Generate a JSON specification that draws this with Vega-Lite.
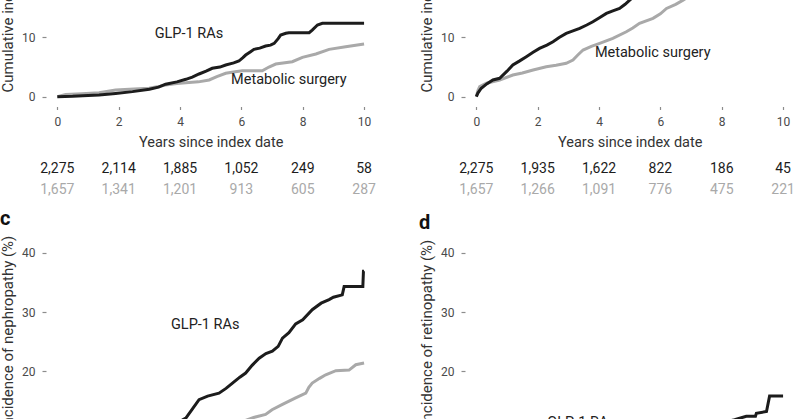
{
  "$schema": "https://vega.github.io/schema/vega-lite/v6.json",
  "padding": {"top": -152, "left": 0, "right": 0, "bottom": 0},
  "autosize": {"type": "pad"},
  "bounds": "flush",
  "columns": 2,
  "spacing": {"row": 41.5, "column": 81},
  "datasets": {
    "curves": [
      {"panel": "a", "group": "Metabolic surgery", "t": 0, "ci": 0},
      {"panel": "a", "group": "Metabolic surgery", "t": 0.27, "ci": 0.35},
      {"panel": "a", "group": "Metabolic surgery", "t": 0.8, "ci": 0.5},
      {"panel": "a", "group": "Metabolic surgery", "t": 1.36, "ci": 0.67},
      {"panel": "a", "group": "Metabolic surgery", "t": 1.9, "ci": 1.13},
      {"panel": "a", "group": "Metabolic surgery", "t": 2.5, "ci": 1.3},
      {"panel": "a", "group": "Metabolic surgery", "t": 2.99, "ci": 1.42},
      {"panel": "a", "group": "Metabolic surgery", "t": 3.3, "ci": 1.7},
      {"panel": "a", "group": "Metabolic surgery", "t": 3.53, "ci": 1.97},
      {"panel": "a", "group": "Metabolic surgery", "t": 3.9, "ci": 2.2},
      {"panel": "a", "group": "Metabolic surgery", "t": 4.19, "ci": 2.36},
      {"panel": "a", "group": "Metabolic surgery", "t": 4.6, "ci": 2.5},
      {"panel": "a", "group": "Metabolic surgery", "t": 4.95, "ci": 2.82},
      {"panel": "a", "group": "Metabolic surgery", "t": 5.2, "ci": 3.4},
      {"panel": "a", "group": "Metabolic surgery", "t": 5.49, "ci": 3.95},
      {"panel": "a", "group": "Metabolic surgery", "t": 5.8, "ci": 4.2},
      {"panel": "a", "group": "Metabolic surgery", "t": 6.03, "ci": 4.38},
      {"panel": "a", "group": "Metabolic surgery", "t": 6.68, "ci": 4.38},
      {"panel": "a", "group": "Metabolic surgery", "t": 6.9, "ci": 5.0},
      {"panel": "a", "group": "Metabolic surgery", "t": 7.12, "ci": 5.51},
      {"panel": "a", "group": "Metabolic surgery", "t": 7.66, "ci": 5.9},
      {"panel": "a", "group": "Metabolic surgery", "t": 7.99, "ci": 6.64},
      {"panel": "a", "group": "Metabolic surgery", "t": 8.43, "ci": 7.2},
      {"panel": "a", "group": "Metabolic surgery", "t": 8.86, "ci": 7.99},
      {"panel": "a", "group": "Metabolic surgery", "t": 9.4, "ci": 8.43},
      {"panel": "a", "group": "Metabolic surgery", "t": 10.0, "ci": 8.89},
      {"panel": "a", "group": "GLP-1 RAs", "t": 0, "ci": 0},
      {"panel": "a", "group": "GLP-1 RAs", "t": 0.5, "ci": 0.05},
      {"panel": "a", "group": "GLP-1 RAs", "t": 1.0, "ci": 0.2},
      {"panel": "a", "group": "GLP-1 RAs", "t": 1.36, "ci": 0.3},
      {"panel": "a", "group": "GLP-1 RAs", "t": 1.9, "ci": 0.55},
      {"panel": "a", "group": "GLP-1 RAs", "t": 2.45, "ci": 0.85},
      {"panel": "a", "group": "GLP-1 RAs", "t": 3.0, "ci": 1.25},
      {"panel": "a", "group": "GLP-1 RAs", "t": 3.3, "ci": 1.6},
      {"panel": "a", "group": "GLP-1 RAs", "t": 3.53, "ci": 2.1},
      {"panel": "a", "group": "GLP-1 RAs", "t": 3.9, "ci": 2.5},
      {"panel": "a", "group": "GLP-1 RAs", "t": 4.19, "ci": 2.93},
      {"panel": "a", "group": "GLP-1 RAs", "t": 4.4, "ci": 3.3},
      {"panel": "a", "group": "GLP-1 RAs", "t": 4.62, "ci": 3.83},
      {"panel": "a", "group": "GLP-1 RAs", "t": 4.85, "ci": 4.3},
      {"panel": "a", "group": "GLP-1 RAs", "t": 5.05, "ci": 4.79},
      {"panel": "a", "group": "GLP-1 RAs", "t": 5.3, "ci": 5.0},
      {"panel": "a", "group": "GLP-1 RAs", "t": 5.49, "ci": 5.35},
      {"panel": "a", "group": "GLP-1 RAs", "t": 5.75, "ci": 5.7},
      {"panel": "a", "group": "GLP-1 RAs", "t": 5.92, "ci": 6.02},
      {"panel": "a", "group": "GLP-1 RAs", "t": 6.05, "ci": 6.6},
      {"panel": "a", "group": "GLP-1 RAs", "t": 6.14, "ci": 7.03},
      {"panel": "a", "group": "GLP-1 RAs", "t": 6.3, "ci": 7.6},
      {"panel": "a", "group": "GLP-1 RAs", "t": 6.41, "ci": 7.99},
      {"panel": "a", "group": "GLP-1 RAs", "t": 6.6, "ci": 8.2},
      {"panel": "a", "group": "GLP-1 RAs", "t": 6.79, "ci": 8.55},
      {"panel": "a", "group": "GLP-1 RAs", "t": 6.95, "ci": 8.7},
      {"panel": "a", "group": "GLP-1 RAs", "t": 7.07, "ci": 9.0},
      {"panel": "a", "group": "GLP-1 RAs", "t": 7.2, "ci": 9.8},
      {"panel": "a", "group": "GLP-1 RAs", "t": 7.28, "ci": 10.4},
      {"panel": "a", "group": "GLP-1 RAs", "t": 7.45, "ci": 10.7},
      {"panel": "a", "group": "GLP-1 RAs", "t": 7.55, "ci": 10.8},
      {"panel": "a", "group": "GLP-1 RAs", "t": 8.21, "ci": 10.8},
      {"panel": "a", "group": "GLP-1 RAs", "t": 8.31, "ci": 11.25},
      {"panel": "a", "group": "GLP-1 RAs", "t": 8.48, "ci": 12.1},
      {"panel": "a", "group": "GLP-1 RAs", "t": 8.64, "ci": 12.38},
      {"panel": "a", "group": "GLP-1 RAs", "t": 10.0, "ci": 12.38},

      {"panel": "b", "group": "Metabolic surgery", "t": 0, "ci": 0},
      {"panel": "b", "group": "Metabolic surgery", "t": 0.05, "ci": 1.0},
      {"panel": "b", "group": "Metabolic surgery", "t": 0.11, "ci": 1.69},
      {"panel": "b", "group": "Metabolic surgery", "t": 0.33, "ci": 2.26},
      {"panel": "b", "group": "Metabolic surgery", "t": 0.76, "ci": 2.82},
      {"panel": "b", "group": "Metabolic surgery", "t": 1.19, "ci": 3.66},
      {"panel": "b", "group": "Metabolic surgery", "t": 1.5, "ci": 4.0},
      {"panel": "b", "group": "Metabolic surgery", "t": 1.85, "ci": 4.5},
      {"panel": "b", "group": "Metabolic surgery", "t": 2.28, "ci": 5.06},
      {"panel": "b", "group": "Metabolic surgery", "t": 2.6, "ci": 5.3},
      {"panel": "b", "group": "Metabolic surgery", "t": 2.93, "ci": 5.63},
      {"panel": "b", "group": "Metabolic surgery", "t": 3.15, "ci": 6.19},
      {"panel": "b", "group": "Metabolic surgery", "t": 3.3, "ci": 7.0},
      {"panel": "b", "group": "Metabolic surgery", "t": 3.48, "ci": 7.88},
      {"panel": "b", "group": "Metabolic surgery", "t": 3.75, "ci": 8.5},
      {"panel": "b", "group": "Metabolic surgery", "t": 4.02, "ci": 9.0},
      {"panel": "b", "group": "Metabolic surgery", "t": 4.45, "ci": 9.85},
      {"panel": "b", "group": "Metabolic surgery", "t": 4.89, "ci": 10.96},
      {"panel": "b", "group": "Metabolic surgery", "t": 5.1, "ci": 11.6},
      {"panel": "b", "group": "Metabolic surgery", "t": 5.32, "ci": 12.38},
      {"panel": "b", "group": "Metabolic surgery", "t": 5.76, "ci": 13.22},
      {"panel": "b", "group": "Metabolic surgery", "t": 6.0, "ci": 14.0},
      {"panel": "b", "group": "Metabolic surgery", "t": 6.2, "ci": 14.9},
      {"panel": "b", "group": "Metabolic surgery", "t": 6.5, "ci": 15.6},
      {"panel": "b", "group": "Metabolic surgery", "t": 6.74, "ci": 16.3},
      {"panel": "b", "group": "Metabolic surgery", "t": 6.95, "ci": 17.0},
      {"panel": "b", "group": "GLP-1 RAs", "t": 0, "ci": 0},
      {"panel": "b", "group": "GLP-1 RAs", "t": 0.05, "ci": 0.6},
      {"panel": "b", "group": "GLP-1 RAs", "t": 0.16, "ci": 1.42},
      {"panel": "b", "group": "GLP-1 RAs", "t": 0.35, "ci": 2.2},
      {"panel": "b", "group": "GLP-1 RAs", "t": 0.54, "ci": 2.82},
      {"panel": "b", "group": "GLP-1 RAs", "t": 0.76, "ci": 3.1},
      {"panel": "b", "group": "GLP-1 RAs", "t": 1.0, "ci": 4.3},
      {"panel": "b", "group": "GLP-1 RAs", "t": 1.19, "ci": 5.35},
      {"panel": "b", "group": "GLP-1 RAs", "t": 1.4, "ci": 6.0},
      {"panel": "b", "group": "GLP-1 RAs", "t": 1.63, "ci": 6.75},
      {"panel": "b", "group": "GLP-1 RAs", "t": 1.85, "ci": 7.5},
      {"panel": "b", "group": "GLP-1 RAs", "t": 2.06, "ci": 8.16},
      {"panel": "b", "group": "GLP-1 RAs", "t": 2.3, "ci": 8.7},
      {"panel": "b", "group": "GLP-1 RAs", "t": 2.5, "ci": 9.28},
      {"panel": "b", "group": "GLP-1 RAs", "t": 2.7, "ci": 10.0},
      {"panel": "b", "group": "GLP-1 RAs", "t": 2.93, "ci": 10.69},
      {"panel": "b", "group": "GLP-1 RAs", "t": 3.15, "ci": 11.1},
      {"panel": "b", "group": "GLP-1 RAs", "t": 3.37, "ci": 11.53},
      {"panel": "b", "group": "GLP-1 RAs", "t": 3.6, "ci": 12.1},
      {"panel": "b", "group": "GLP-1 RAs", "t": 3.8, "ci": 12.65},
      {"panel": "b", "group": "GLP-1 RAs", "t": 4.0, "ci": 13.3},
      {"panel": "b", "group": "GLP-1 RAs", "t": 4.24, "ci": 14.06},
      {"panel": "b", "group": "GLP-1 RAs", "t": 4.45, "ci": 14.5},
      {"panel": "b", "group": "GLP-1 RAs", "t": 4.67, "ci": 14.9},
      {"panel": "b", "group": "GLP-1 RAs", "t": 4.85, "ci": 15.6},
      {"panel": "b", "group": "GLP-1 RAs", "t": 5.0, "ci": 16.3},
      {"panel": "b", "group": "GLP-1 RAs", "t": 5.15, "ci": 17.0},

      {"panel": "c", "group": "Metabolic surgery", "t": 0, "ci": 0},
      {"panel": "c", "group": "Metabolic surgery", "t": 1, "ci": 1.5},
      {"panel": "c", "group": "Metabolic surgery", "t": 2, "ci": 3.0},
      {"panel": "c", "group": "Metabolic surgery", "t": 3, "ci": 4.8},
      {"panel": "c", "group": "Metabolic surgery", "t": 4, "ci": 6.8},
      {"panel": "c", "group": "Metabolic surgery", "t": 5, "ci": 8.8},
      {"panel": "c", "group": "Metabolic surgery", "t": 5.6, "ci": 10.3},
      {"panel": "c", "group": "Metabolic surgery", "t": 6.14, "ci": 11.7},
      {"panel": "c", "group": "Metabolic surgery", "t": 6.4, "ci": 12.2},
      {"panel": "c", "group": "Metabolic surgery", "t": 6.79, "ci": 12.7},
      {"panel": "c", "group": "Metabolic surgery", "t": 7.0, "ci": 13.5},
      {"panel": "c", "group": "Metabolic surgery", "t": 7.34, "ci": 14.4},
      {"panel": "c", "group": "Metabolic surgery", "t": 7.77, "ci": 15.5},
      {"panel": "c", "group": "Metabolic surgery", "t": 8.1, "ci": 16.3},
      {"panel": "c", "group": "Metabolic surgery", "t": 8.2, "ci": 17.3},
      {"panel": "c", "group": "Metabolic surgery", "t": 8.31, "ci": 18.0},
      {"panel": "c", "group": "Metabolic surgery", "t": 8.55, "ci": 18.8},
      {"panel": "c", "group": "Metabolic surgery", "t": 8.75, "ci": 19.4},
      {"panel": "c", "group": "Metabolic surgery", "t": 9.08, "ci": 20.1},
      {"panel": "c", "group": "Metabolic surgery", "t": 9.51, "ci": 20.2},
      {"panel": "c", "group": "Metabolic surgery", "t": 9.73, "ci": 21.1},
      {"panel": "c", "group": "Metabolic surgery", "t": 10.0, "ci": 21.4},
      {"panel": "c", "group": "GLP-1 RAs", "t": 0, "ci": 0},
      {"panel": "c", "group": "GLP-1 RAs", "t": 1, "ci": 2.5},
      {"panel": "c", "group": "GLP-1 RAs", "t": 2, "ci": 5.2},
      {"panel": "c", "group": "GLP-1 RAs", "t": 3, "ci": 8.2},
      {"panel": "c", "group": "GLP-1 RAs", "t": 3.6, "ci": 10.2},
      {"panel": "c", "group": "GLP-1 RAs", "t": 4.06, "ci": 11.7},
      {"panel": "c", "group": "GLP-1 RAs", "t": 4.19, "ci": 12.1},
      {"panel": "c", "group": "GLP-1 RAs", "t": 4.4, "ci": 13.6},
      {"panel": "c", "group": "GLP-1 RAs", "t": 4.62, "ci": 15.2},
      {"panel": "c", "group": "GLP-1 RAs", "t": 4.9, "ci": 15.8},
      {"panel": "c", "group": "GLP-1 RAs", "t": 5.27, "ci": 16.3},
      {"panel": "c", "group": "GLP-1 RAs", "t": 5.5, "ci": 17.1},
      {"panel": "c", "group": "GLP-1 RAs", "t": 5.71, "ci": 18.0},
      {"panel": "c", "group": "GLP-1 RAs", "t": 5.95, "ci": 19.0},
      {"panel": "c", "group": "GLP-1 RAs", "t": 6.14, "ci": 19.7},
      {"panel": "c", "group": "GLP-1 RAs", "t": 6.35, "ci": 21.0},
      {"panel": "c", "group": "GLP-1 RAs", "t": 6.58, "ci": 22.2},
      {"panel": "c", "group": "GLP-1 RAs", "t": 6.8, "ci": 23.0},
      {"panel": "c", "group": "GLP-1 RAs", "t": 7.01, "ci": 23.4},
      {"panel": "c", "group": "GLP-1 RAs", "t": 7.2, "ci": 24.2},
      {"panel": "c", "group": "GLP-1 RAs", "t": 7.34, "ci": 25.6},
      {"panel": "c", "group": "GLP-1 RAs", "t": 7.55, "ci": 26.5},
      {"panel": "c", "group": "GLP-1 RAs", "t": 7.77, "ci": 28.0},
      {"panel": "c", "group": "GLP-1 RAs", "t": 8.0, "ci": 28.7},
      {"panel": "c", "group": "GLP-1 RAs", "t": 8.31, "ci": 30.4},
      {"panel": "c", "group": "GLP-1 RAs", "t": 8.6, "ci": 31.5},
      {"panel": "c", "group": "GLP-1 RAs", "t": 8.86, "ci": 32.1},
      {"panel": "c", "group": "GLP-1 RAs", "t": 9.0, "ci": 32.5},
      {"panel": "c", "group": "GLP-1 RAs", "t": 9.29, "ci": 32.9},
      {"panel": "c", "group": "GLP-1 RAs", "t": 9.35, "ci": 34.3},
      {"panel": "c", "group": "GLP-1 RAs", "t": 9.96, "ci": 34.3},
      {"panel": "c", "group": "GLP-1 RAs", "t": 9.98, "ci": 36.9},
      {"panel": "c", "group": "GLP-1 RAs", "t": 10.0, "ci": 36.9},

      {"panel": "d", "group": "Metabolic surgery", "t": 0, "ci": 0},
      {"panel": "d", "group": "Metabolic surgery", "t": 2, "ci": 1.5},
      {"panel": "d", "group": "Metabolic surgery", "t": 4, "ci": 3.0},
      {"panel": "d", "group": "Metabolic surgery", "t": 6, "ci": 4.5},
      {"panel": "d", "group": "Metabolic surgery", "t": 8, "ci": 6.0},
      {"panel": "d", "group": "Metabolic surgery", "t": 10, "ci": 7.5},
      {"panel": "d", "group": "GLP-1 RAs", "t": 0, "ci": 0},
      {"panel": "d", "group": "GLP-1 RAs", "t": 2, "ci": 2.8},
      {"panel": "d", "group": "GLP-1 RAs", "t": 4, "ci": 5.6},
      {"panel": "d", "group": "GLP-1 RAs", "t": 6, "ci": 8.5},
      {"panel": "d", "group": "GLP-1 RAs", "t": 7.5, "ci": 10.6},
      {"panel": "d", "group": "GLP-1 RAs", "t": 8.42, "ci": 11.8},
      {"panel": "d", "group": "GLP-1 RAs", "t": 8.8, "ci": 12.4},
      {"panel": "d", "group": "GLP-1 RAs", "t": 9.1, "ci": 12.4},
      {"panel": "d", "group": "GLP-1 RAs", "t": 9.13, "ci": 12.9},
      {"panel": "d", "group": "GLP-1 RAs", "t": 9.46, "ci": 13.2},
      {"panel": "d", "group": "GLP-1 RAs", "t": 9.56, "ci": 15.8},
      {"panel": "d", "group": "GLP-1 RAs", "t": 10.0, "ci": 15.8}
    ],
    "labels": [
      {"panel": "a", "t": 4.29, "ci": 10.66, "label": "GLP-1 RAs"},
      {"panel": "a", "t": 7.55, "ci": 2.73, "label": "Metabolic surgery"},
      {"panel": "b", "t": 5.75, "ci": 7.37, "label": "Metabolic surgery"},
      {"panel": "c", "t": 4.82, "ci": 27.75, "label": "GLP-1 RAs"},
      {"panel": "d", "t": 3.43, "ci": 11.25, "label": "GLP-1 RAs"}
    ],
    "risk": [
      {"panel": "a", "group": "GLP-1 RAs", "t": 0, "n": 2275},
      {"panel": "a", "group": "GLP-1 RAs", "t": 2, "n": 2114},
      {"panel": "a", "group": "GLP-1 RAs", "t": 4, "n": 1885},
      {"panel": "a", "group": "GLP-1 RAs", "t": 6, "n": 1052},
      {"panel": "a", "group": "GLP-1 RAs", "t": 8, "n": 249},
      {"panel": "a", "group": "GLP-1 RAs", "t": 10, "n": 58},
      {"panel": "a", "group": "Metabolic surgery", "t": 0, "n": 1657},
      {"panel": "a", "group": "Metabolic surgery", "t": 2, "n": 1341},
      {"panel": "a", "group": "Metabolic surgery", "t": 4, "n": 1201},
      {"panel": "a", "group": "Metabolic surgery", "t": 6, "n": 913},
      {"panel": "a", "group": "Metabolic surgery", "t": 8, "n": 605},
      {"panel": "a", "group": "Metabolic surgery", "t": 10, "n": 287},
      {"panel": "b", "group": "GLP-1 RAs", "t": 0, "n": 2275},
      {"panel": "b", "group": "GLP-1 RAs", "t": 2, "n": 1935},
      {"panel": "b", "group": "GLP-1 RAs", "t": 4, "n": 1622},
      {"panel": "b", "group": "GLP-1 RAs", "t": 6, "n": 822},
      {"panel": "b", "group": "GLP-1 RAs", "t": 8, "n": 186},
      {"panel": "b", "group": "GLP-1 RAs", "t": 10, "n": 45},
      {"panel": "b", "group": "Metabolic surgery", "t": 0, "n": 1657},
      {"panel": "b", "group": "Metabolic surgery", "t": 2, "n": 1266},
      {"panel": "b", "group": "Metabolic surgery", "t": 4, "n": 1091},
      {"panel": "b", "group": "Metabolic surgery", "t": 6, "n": 776},
      {"panel": "b", "group": "Metabolic surgery", "t": 8, "n": 475},
      {"panel": "b", "group": "Metabolic surgery", "t": 10, "n": 221}
    ]
  },
  "concat": [
    {
      "width": 337.4, "height": 260.5,
      "layer": [
        {"mark": {"type": "rule", "color": "#a3a3a3", "strokeWidth": 1.5}, "encoding": {"y": {"datum": 0, "type": "quantitative"}}},
        {"mark": {"type": "rule", "color": "#a3a3a3", "strokeWidth": 1.5}, "encoding": {"x": {"datum": 0, "type": "quantitative"}}},
        {
          "data": {"name": "curves"}, "transform": [{"filter": "datum.panel === 'a'"}],
          "mark": {"type": "line", "strokeWidth": 3, "clip": true},
          "encoding": {
            "x": {"field": "t", "type": "quantitative", "scale": {"domain": [-0.5, 10.5], "nice": false, "zero": false},
                  "axis": {"title": "Years since index date", "values": [0, 2, 4, 6, 8, 10], "offset": -2, "tickSize": 3, "labelPadding": 7, "titlePadding": 8}},
            "y": {"field": "ci", "type": "quantitative", "scale": {"domain": [-2, 42], "nice": false, "zero": false},
                  "axis": {"title": "Cumulative incidence of death (%)", "values": [0, 10, 20, 30, 40], "offset": -4, "tickSize": 4, "labelPadding": 7, "titlePadding": 6, "titleFontSize": 15, "titleAlign": "left", "titleAnchor": "start", "titleY": 244}},
            "color": {"field": "group", "type": "nominal", "scale": {"domain": ["Metabolic surgery", "GLP-1 RAs"], "range": ["#a9a9a9", "#1c1c1c"]}, "legend": null}
          }
        },
        {
          "data": {"name": "labels"}, "transform": [{"filter": "datum.panel === 'a'"}],
          "mark": {"type": "text", "fontSize": 14.5, "color": "#222222"},
          "encoding": {"x": {"field": "t", "type": "quantitative"}, "y": {"field": "ci", "type": "quantitative"}, "text": {"field": "label"}}
        }
      ]
    },
    {
      "width": 337.4, "height": 260.5,
      "layer": [
        {"mark": {"type": "rule", "color": "#a3a3a3", "strokeWidth": 1.5}, "encoding": {"y": {"datum": 0, "type": "quantitative"}}},
        {"mark": {"type": "rule", "color": "#a3a3a3", "strokeWidth": 1.5}, "encoding": {"x": {"datum": 0, "type": "quantitative"}}},
        {
          "data": {"name": "curves"}, "transform": [{"filter": "datum.panel === 'b'"}],
          "mark": {"type": "line", "strokeWidth": 3, "clip": true},
          "encoding": {
            "x": {"field": "t", "type": "quantitative", "scale": {"domain": [-0.5, 10.5], "nice": false, "zero": false},
                  "axis": {"title": "Years since index date", "values": [0, 2, 4, 6, 8, 10], "offset": -2, "tickSize": 3, "labelPadding": 7, "titlePadding": 8}},
            "y": {"field": "ci", "type": "quantitative", "scale": {"domain": [-2, 42], "nice": false, "zero": false},
                  "axis": {"title": "Cumulative incidence of MACE (%)", "values": [0, 10, 20, 30, 40], "offset": -4, "tickSize": 4, "labelPadding": 7, "titlePadding": 6, "titleFontSize": 15, "titleAlign": "left", "titleAnchor": "start", "titleY": 244}},
            "color": {"field": "group", "type": "nominal", "scale": {"domain": ["Metabolic surgery", "GLP-1 RAs"], "range": ["#a9a9a9", "#1c1c1c"]}, "legend": null}
          }
        },
        {
          "data": {"name": "labels"}, "transform": [{"filter": "datum.panel === 'b'"}],
          "mark": {"type": "text", "fontSize": 14.5, "color": "#222222"},
          "encoding": {"x": {"field": "t", "type": "quantitative"}, "y": {"field": "ci", "type": "quantitative"}, "text": {"field": "label"}}
        }
      ]
    },
    {
      "width": 337.4, "height": 48.4,
      "data": {"name": "risk"}, "transform": [{"filter": "datum.panel === 'a'"}],
      "mark": {"type": "text", "fontSize": 14},
      "encoding": {
        "x": {"field": "t", "type": "quantitative", "scale": {"domain": [-0.5, 10.5], "nice": false, "zero": false}, "axis": null},
        "y": {"field": "group", "type": "nominal", "scale": {"type": "point", "domain": ["GLP-1 RAs", "Metabolic surgery"], "padding": 0.636, "align": 0.69}, "axis": null},
        "text": {"field": "n", "type": "quantitative", "format": ","},
        "color": {"field": "group", "type": "nominal", "scale": {"domain": ["Metabolic surgery", "GLP-1 RAs"], "range": ["#acacac", "#222222"]}, "legend": null}
      }
    },
    {
      "width": 337.4, "height": 48.4,
      "data": {"name": "risk"}, "transform": [{"filter": "datum.panel === 'b'"}],
      "mark": {"type": "text", "fontSize": 14},
      "encoding": {
        "x": {"field": "t", "type": "quantitative", "scale": {"domain": [-0.5, 10.5], "nice": false, "zero": false}, "axis": null},
        "y": {"field": "group", "type": "nominal", "scale": {"type": "point", "domain": ["GLP-1 RAs", "Metabolic surgery"], "padding": 0.636, "align": 0.69}, "axis": null},
        "text": {"field": "n", "type": "quantitative", "format": ","},
        "color": {"field": "group", "type": "nominal", "scale": {"domain": ["Metabolic surgery", "GLP-1 RAs"], "range": ["#acacac", "#222222"]}, "legend": null}
      }
    },
    {
      "width": 337.4, "height": 260.5,
      "title": {"text": "c", "dx": -42, "offset": 6},
      "layer": [
        {"mark": {"type": "rule", "color": "#a3a3a3", "strokeWidth": 1.5}, "encoding": {"y": {"datum": 0, "type": "quantitative"}}},
        {"mark": {"type": "rule", "color": "#a3a3a3", "strokeWidth": 1.5}, "encoding": {"x": {"datum": 0, "type": "quantitative"}}},
        {
          "data": {"name": "curves"}, "transform": [{"filter": "datum.panel === 'c'"}],
          "mark": {"type": "line", "strokeWidth": 3, "clip": true},
          "encoding": {
            "x": {"field": "t", "type": "quantitative", "scale": {"domain": [-0.5, 10.5], "nice": false, "zero": false},
                  "axis": {"title": "Years since index date", "values": [0, 2, 4, 6, 8, 10], "offset": -2, "tickSize": 3, "labelPadding": 7, "titlePadding": 8}},
            "y": {"field": "ci", "type": "quantitative", "scale": {"domain": [-2, 42], "nice": false, "zero": false},
                  "axis": {"title": "Cumulative incidence of nephropathy (%)", "values": [0, 10, 20, 30, 40], "offset": -4, "tickSize": 4, "labelPadding": 7, "titlePadding": 6, "titleFontSize": 15}},
            "color": {"field": "group", "type": "nominal", "scale": {"domain": ["Metabolic surgery", "GLP-1 RAs"], "range": ["#a9a9a9", "#1c1c1c"]}, "legend": null}
          }
        },
        {
          "data": {"name": "labels"}, "transform": [{"filter": "datum.panel === 'c'"}],
          "mark": {"type": "text", "fontSize": 14.5, "color": "#222222"},
          "encoding": {"x": {"field": "t", "type": "quantitative"}, "y": {"field": "ci", "type": "quantitative"}, "text": {"field": "label"}}
        }
      ]
    },
    {
      "width": 337.4, "height": 260.5,
      "title": {"text": "d", "dx": -42, "offset": 6},
      "layer": [
        {"mark": {"type": "rule", "color": "#a3a3a3", "strokeWidth": 1.5}, "encoding": {"y": {"datum": 0, "type": "quantitative"}}},
        {"mark": {"type": "rule", "color": "#a3a3a3", "strokeWidth": 1.5}, "encoding": {"x": {"datum": 0, "type": "quantitative"}}},
        {
          "data": {"name": "curves"}, "transform": [{"filter": "datum.panel === 'd'"}],
          "mark": {"type": "line", "strokeWidth": 3, "clip": true},
          "encoding": {
            "x": {"field": "t", "type": "quantitative", "scale": {"domain": [-0.5, 10.5], "nice": false, "zero": false},
                  "axis": {"title": "Years since index date", "values": [0, 2, 4, 6, 8, 10], "offset": -2, "tickSize": 3, "labelPadding": 7, "titlePadding": 8}},
            "y": {"field": "ci", "type": "quantitative", "scale": {"domain": [-2, 42], "nice": false, "zero": false},
                  "axis": {"title": "Cumulative incidence of retinopathy (%)", "values": [0, 10, 20, 30, 40], "offset": -4, "tickSize": 4, "labelPadding": 7, "titlePadding": 6, "titleFontSize": 15}},
            "color": {"field": "group", "type": "nominal", "scale": {"domain": ["Metabolic surgery", "GLP-1 RAs"], "range": ["#a9a9a9", "#1c1c1c"]}, "legend": null}
          }
        },
        {
          "data": {"name": "labels"}, "transform": [{"filter": "datum.panel === 'd'"}],
          "mark": {"type": "text", "fontSize": 14.5, "color": "#222222"},
          "encoding": {"x": {"field": "t", "type": "quantitative"}, "y": {"field": "ci", "type": "quantitative"}, "text": {"field": "label"}}
        }
      ]
    }
  ],
  "config": {
    "font": "Roboto",
    "view": {"stroke": null},
    "axis": {"domain": false, "grid": false, "tickColor": "#8c8c8c", "tickWidth": 1.2, "labelFontSize": 12, "labelColor": "#4a4a4a", "titleFontSize": 14.5, "titleFontWeight": "normal", "titleColor": "#333333"},
    "title": {"fontSize": 20, "fontWeight": "bold", "anchor": "start", "frame": "group", "color": "#111111"}
  }
}
